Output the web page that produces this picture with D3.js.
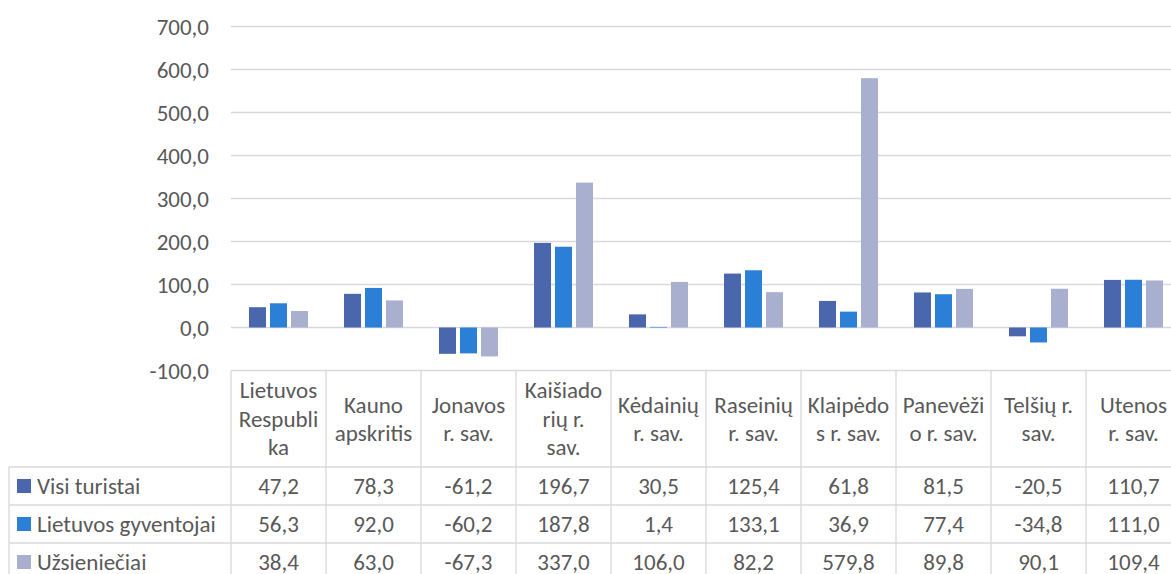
<!DOCTYPE html>
<html><head><meta charset="utf-8">
<script src="https://cdn.jsdelivr.net/npm/d3@7"></script>
<style>
html,body{margin:0;padding:0;background:#fff;overflow:hidden}
svg text{font-family:Carlito,Calibri,Lato,sans-serif;fill:#595959}
</style></head>
<body>
<svg id="c" width="1171" height="574"></svg>
<script>
const categories = ["Lietuvos Respublika","Kauno apskritis","Jonavos r. sav.","Kaišiadorių r. sav.","Kėdainių r. sav.","Raseinių r. sav.","Klaipėdos r. sav.","Panevėžio r. sav.","Telšių r. sav.","Utenos r. sav."];
const categoryLines = [["Lietuvos","Respubli","ka"],["Kauno","apskritis"],["Jonavos","r. sav."],["Kaišiado","rių r.","sav."],["Kėdainių","r. sav."],["Raseinių","r. sav."],["Klaipėdo","s r. sav."],["Panevėži","o r. sav."],["Telšių r.","sav."],["Utenos","r. sav."]];
const seriesNames = ["Visi turistai","Lietuvos gyventojai","Užsieniečiai"];
const visiTuristai = [47.2,78.3,-61.2,196.7,30.5,125.4,61.8,81.5,-20.5,110.7];
const lietuvosGyventojai = [56.3,92.0,-60.2,187.8,1.4,133.1,36.9,77.4,-34.8,111.0];
const uzsienieciai = [38.4,63.0,-67.3,337.0,106.0,82.2,579.8,89.8,90.1,109.4];
const yTicks = [-100,0,100,200,300,400,500,600,700];
const colors = ["#4a66ac","#2b7fd6","#a9b0cf"];

const seriesValues = [visiTuristai, lietuvosGyventojai, uzsienieciai];
const svg = d3.select("#c");
const fmt = v => v.toFixed(1).replace(".", ",");
const FS = 23;

const left = 231, right = 1181;
const y = d3.scaleLinear().domain([-100,700]).range([370.5, 26.5]);
const x0 = d3.scaleBand().domain(categories).range([left,right]);
const x1 = d3.scaleBand().domain(seriesNames).range([18,77]).paddingInner(4/21);

// gridlines
svg.append("g").selectAll("line").data(yTicks.filter(t=>t>-100)).join("line")
  .attr("x1",left).attr("x2",1171).attr("y1",d=>y(d)).attr("y2",d=>y(d))
  .attr("stroke","#d9d9d9").attr("stroke-width",1.3);

// y labels
svg.append("g").selectAll("text").data(yTicks).join("text")
  .attr("x",209).attr("y",d=>y(d)).attr("dy","0.35em").attr("text-anchor","end")
  .attr("font-size",FS).text(d=>fmt(d));

// bars
const barData = [];
categories.forEach((c,i)=>seriesNames.forEach((s,j)=>barData.push({c,s,v:seriesValues[j][i],j})));
svg.append("g").selectAll("rect").data(barData).join("rect")
  .attr("x",d=>x0(d.c)+x1(d.s)).attr("width",x1.bandwidth())
  .attr("y",d=>Math.min(y(d.v),y(0))).attr("height",d=>Math.abs(y(d.v)-y(0)))
  .attr("fill",d=>colors[d.j]);

// table
const tTop = 370.5, hBottom = 467, rowH = 38, tLeft = 9;
const g = svg.append("g");
const lc = "#d9d9d9", lw = 1.3;
g.append("line").attr("x1",left).attr("x2",1171).attr("y1",tTop).attr("y2",tTop).attr("stroke",lc).attr("stroke-width",lw);
for(let r=0;r<4;r++){
  const yy = hBottom + r*rowH;
  g.append("line").attr("x1",tLeft).attr("x2",1171).attr("y1",yy).attr("y2",yy).attr("stroke",lc).attr("stroke-width",lw);
}
g.append("line").attr("x1",tLeft).attr("x2",tLeft).attr("y1",hBottom).attr("y2",600).attr("stroke",lc).attr("stroke-width",lw);
categories.forEach(c=>{
  g.append("line").attr("x1",x0(c)).attr("x2",x0(c)).attr("y1",tTop).attr("y2",600).attr("stroke",lc).attr("stroke-width",lw);
});
g.append("line").attr("x1",right).attr("x2",right).attr("y1",tTop).attr("y2",600).attr("stroke",lc).attr("stroke-width",lw);

// header
const lineH = 28.5;
categories.forEach((c,i)=>{
  const lines = categoryLines[i];
  const cy = (tTop+hBottom)/2;
  const startY = cy - (lines.length-1)*lineH/2;
  const t = g.append("text").attr("text-anchor","middle").attr("font-size",FS);
  lines.forEach((l,k)=>t.append("tspan").attr("x",x0(c)+x0.bandwidth()/2).attr("y",startY+k*lineH).attr("dy","0.35em").text(l));
});

// rows
seriesNames.forEach((s,j)=>{
  const cy = hBottom + j*rowH + rowH/2;
  g.append("rect").attr("x",17).attr("y",cy-7).attr("width",14).attr("height",14).attr("fill",colors[j]);
  g.append("text").attr("x",37).attr("y",cy).attr("dy","0.35em").attr("font-size",FS).text(s);
  categories.forEach((c,i)=>{
    g.append("text").attr("x",x0(c)+x0.bandwidth()/2).attr("y",cy).attr("dy","0.35em")
      .attr("text-anchor","middle").attr("font-size",FS).text(fmt(seriesValues[j][i]));
  });
});
</script>
</body></html>
